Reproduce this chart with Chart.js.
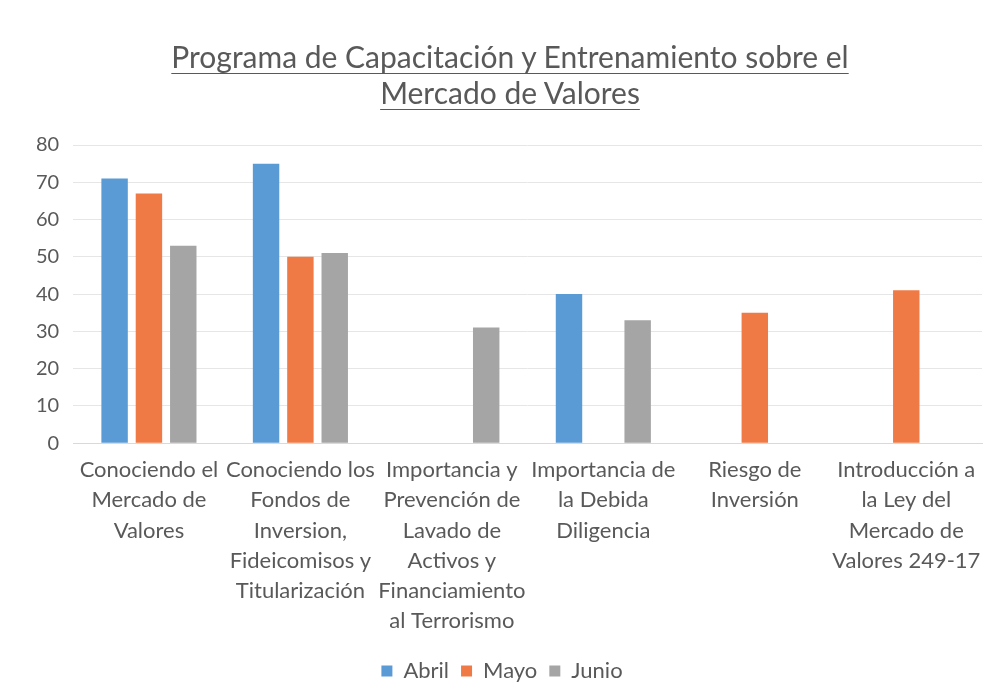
<!DOCTYPE html>
<html lang="es">
<head>
<meta charset="UTF-8">
<title>Programa de Capacitación y Entrenamiento sobre el Mercado de Valores</title>
<script src="https://cdn.jsdelivr.net/npm/chart.js"></script>
<style>
  html, body { margin: 0; padding: 0; background: #fff; }
  #wrap { position: relative; width: 998px; height: 700px; }
  #titulo {
    position: absolute; left: 11px; top: 38px; width: 998px;
    text-align: center; font-family: Lato, sans-serif;
    font-size: 30px; line-height: 36px; color: #595959; text-decoration: underline;
    text-underline-offset: 5px; text-decoration-thickness: 1px;
  }
</style>
</head>
<body>
<div id="wrap">
  <div id="titulo">Programa de Capacitación y Entrenamiento sobre el<br>Mercado de Valores</div>
  <canvas id="grafico" width="998" height="700"></canvas>
</div>
<script>
const categorias = [
  ['Conociendo el', 'Mercado de', 'Valores'],
  ['Conociendo los', 'Fondos de', 'Inversion,', 'Fideicomisos y', 'Titularización'],
  ['Importancia y', 'Prevención de', 'Lavado de', 'Activos y', 'Financiamiento', 'al Terrorismo'],
  ['Importancia de', 'la Debida', 'Diligencia'],
  ['Riesgo de', 'Inversión'],
  ['Introducción a', 'la Ley del', 'Mercado de', 'Valores 249-17']
];
const abril = [71, 75, null, 40, null, null];
const mayo  = [67, 50, null, null, 35, 41];
const junio = [53, 51, 31, 33, null, null];

const fuente = 'Lato, sans-serif';
const gris = '#595959';

new Chart(document.getElementById('grafico'), {
  type: 'bar',
  data: {
    labels: categorias,
    datasets: [
      { label: 'Abril', data: abril, backgroundColor: '#5b9bd5' },
      { label: 'Mayo', data: mayo, backgroundColor: '#f07a45' },
      { label: 'Junio', data: junio, backgroundColor: '#a5a5a5' }
    ]
  },
  options: {
    responsive: false,
    animation: false,
    datasets: { bar: { barPercentage: 0.77, categoryPercentage: 0.68 } },
    layout: { padding: { top: 145, right: 16, left: 22, bottom: 8 } },
    plugins: {
      legend: {
        position: 'bottom',
        labels: {
          boxWidth: 11, boxHeight: 11, color: gris, padding: 12,
          font: { family: fuente, size: 22 }
        }
      },
      tooltip: { enabled: false }
    },
    scales: {
      x: {
        grid: { display: false, drawTicks: false },
        border: { color: '#d9d9d9' },
        ticks: {
          color: gris, padding: 12, maxRotation: 0, autoSkip: false,
          font: { family: fuente, size: 22, lineHeight: 1.37 }
        }
      },
      y: {
        min: 0, max: 80,
        grid: { color: '#e6e6e6', drawTicks: false },
        border: { display: false },
        ticks: {
          stepSize: 10, color: gris, padding: 14,
          font: { family: fuente, size: 20 }
        }
      }
    }
  }
});
</script>
</body>
</html>
